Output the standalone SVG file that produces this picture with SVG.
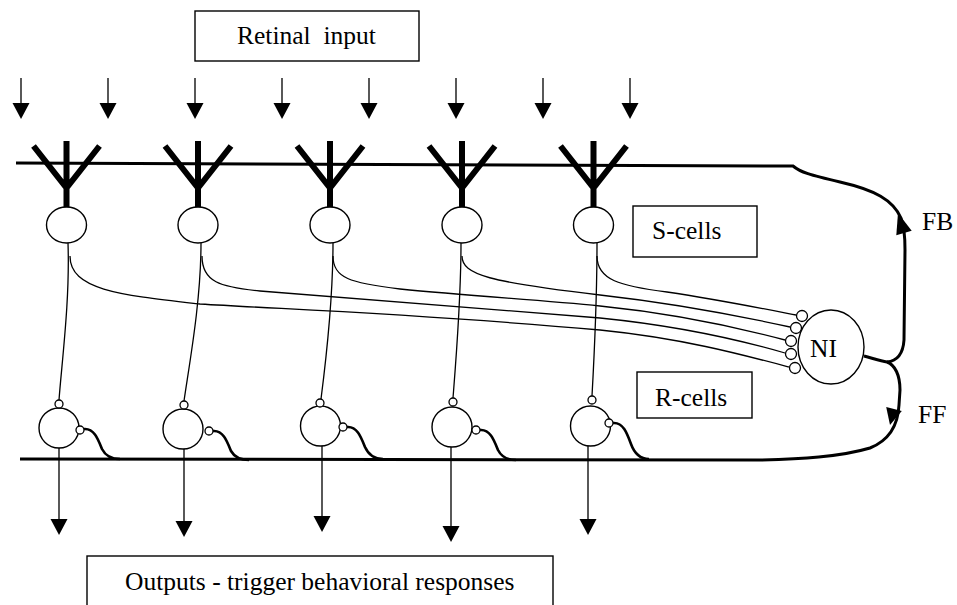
<svg xmlns="http://www.w3.org/2000/svg" xmlns:xlink="http://www.w3.org/1999/xlink" width="957" height="605" viewBox="0 0 957 605">
<style>
.thin{fill:none;stroke:#000;stroke-width:1.3}
.thick{fill:none;stroke:#000;stroke-width:3}
.tail{fill:none;stroke:#000;stroke-width:2.6}
.den{fill:none;stroke:#000;stroke-width:6;stroke-linejoin:miter}
.cell{fill:#fff;stroke:#000;stroke-width:1.4}
.syn{fill:#fff;stroke:#000;stroke-width:1.3}
.box{fill:#fff;stroke:#000;stroke-width:1.4}
.lbl{font-family:"Liberation Serif","Times New Roman",serif;font-size:25.5px;fill:#000}
</style>
<defs>
<path id="ah" d="M-8.5,-16 L8.5,-16 L0,0 Z" fill="#000"/>
</defs>
<rect width="957" height="605" fill="#fff"/>

<g id="retinal-input">
<rect class="box" x="195" y="11" width="224" height="50"/>
<text class="lbl" x="237" y="44" xml:space="preserve" style="white-space:pre">Retinal  input</text>
</g>

<g id="connectors">
<g class="thin">
<path d="M21,78V104M108,78V104M195,78V104M282,78V104M369,78V104M456,78V104M543,78V104M630,78V104"/>
</g>
<use xlink:href="#ah" x="21" y="119"/><use xlink:href="#ah" x="108" y="119"/><use xlink:href="#ah" x="195" y="119"/><use xlink:href="#ah" x="282" y="119"/>
<use xlink:href="#ah" x="369" y="119"/><use xlink:href="#ah" x="456" y="119"/><use xlink:href="#ah" x="543" y="119"/><use xlink:href="#ah" x="630" y="119"/>

<path class="thick" d="M16,163 L793,166 C800,172 810,175 840,182 C875,190 893,200 901,218 C905,228 905,240 905,250 L904,340 C903,355 897,361 887,362"/>
<path class="thick" d="M864,356 C872,358 880,361 887,362 C895,365 900,375 900,390 L899,405 C898,425 890,440 870,448 C840,457 800,459 760,460 L20,459"/>
<path d="M898,213 L911.7,230.7 L896.3,235.3 Z" fill="#000"/>
<path d="M890,425 L886.2,407.1 L901.8,410.9 Z" fill="#000"/>

<path class="thin" d="M68,243 C70,300 62,360 59,400"/>
<path class="thin" d="M201,243 C201,300 190,360 184,401"/>
<path class="thin" d="M333,243 C333,300 326,360 321,399"/>
<path class="thin" d="M461,243 C461,300 456,360 453,398"/>
<path class="thin" d="M597,243 C597,300 594,360 592,396"/>

<path class="thin" d="M70,256 C70,290 120,295 200,304 C300,310 420,314 600,330 C680,338 740,354 789,367"/>
<path class="thin" d="M202,256 C202,282 220,287 260,291 C330,297 450,306 600,318 C680,326 740,340 785,353"/>
<path class="thin" d="M333,256 C333,278 350,283 400,289 C470,296 540,300 600,306 C680,314 740,328 785,340"/>
<path class="thin" d="M462,256 C462,275 490,282 600,295 C680,304 740,316 790,327"/>
<path class="thin" d="M597,256 C597,280 620,286 667,292 C720,300 760,308 796,315"/>

<path class="tail" d="M84,429 C94,428 98,439 102,449 C106,457 112,459 120,459"/>
<path class="tail" d="M213,431 C223,430 227,441 231,451 C235,458 241,460 249,460"/>
<path class="tail" d="M347,427 C357,426 361,437 365,447 C369,456 375,459 383,459"/>
<path class="tail" d="M480,430 C490,429 494,440 498,450 C502,458 508,460 516,460"/>
<path class="tail" d="M613,423 C623,422 627,433 631,444 C635,455 641,459 649,459"/>

<path class="thin" d="M59,448V520M184,449V522M322,446V517M451,447V527M588,446V520"/>
<use xlink:href="#ah" x="59" y="535"/><use xlink:href="#ah" x="184" y="537"/><use xlink:href="#ah" x="322" y="532"/><use xlink:href="#ah" x="451" y="542"/><use xlink:href="#ah" x="588" y="535"/>
</g>

<g id="dendrites">
<path class="den" d="M66.5,141V207M33.5,146L66.5,188L99.5,146"/>
<path class="den" d="M198,141V207M165,146L198,188L231,146"/>
<path class="den" d="M330,141V207M297,146L330,188L363,146"/>
<path class="den" d="M462,141V207M429,146L462,188L495,146"/>
<path class="den" d="M593.5,141V207M560.5,146L593.5,188L626.5,146"/>
</g>

<g id="s-cell-1"><ellipse class="cell" cx="66.5" cy="225" rx="20" ry="18"/></g>
<g id="s-cell-2"><ellipse class="cell" cx="198" cy="225" rx="20" ry="18"/></g>
<g id="s-cell-3"><ellipse class="cell" cx="330" cy="225" rx="20" ry="18"/></g>
<g id="s-cell-4"><ellipse class="cell" cx="462" cy="225" rx="20" ry="18"/></g>
<g id="s-cell-5"><ellipse class="cell" cx="593.5" cy="225" rx="20" ry="18"/></g>

<g id="r-cell-1"><circle class="cell" cx="59" cy="428" r="20"/><circle class="syn" cx="59" cy="404" r="4"/><circle class="syn" cx="80" cy="430" r="4"/></g>
<g id="r-cell-2"><circle class="cell" cx="183" cy="429" r="20"/><circle class="syn" cx="184" cy="405" r="4"/><circle class="syn" cx="209" cy="431" r="4"/></g>
<g id="r-cell-3"><circle class="cell" cx="320.5" cy="426" r="20"/><circle class="syn" cx="320" cy="403" r="4"/><circle class="syn" cx="343" cy="427" r="4"/></g>
<g id="r-cell-4"><circle class="cell" cx="452" cy="427" r="20"/><circle class="syn" cx="453" cy="402" r="4"/><circle class="syn" cx="476" cy="430" r="4"/></g>
<g id="r-cell-5"><circle class="cell" cx="590.5" cy="426" r="20"/><circle class="syn" cx="592" cy="400" r="4"/><circle class="syn" cx="609" cy="423" r="4"/></g>

<g id="ni">
<ellipse class="cell" cx="831" cy="347" rx="33" ry="37"/>
<circle class="syn" cx="802" cy="316" r="5.5"/>
<circle class="syn" cx="796" cy="328" r="5.5"/>
<circle class="syn" cx="791" cy="341" r="5.5"/>
<circle class="syn" cx="791" cy="354" r="5.5"/>
<circle class="syn" cx="795" cy="368" r="5.5"/>
<text class="lbl" x="810" y="357">NI</text>
</g>

<g id="s-cells-label">
<rect class="box" x="633" y="206" width="124" height="51"/>
<text class="lbl" x="652" y="239">S-cells</text>
</g>
<g id="r-cells-label">
<rect class="box" x="637" y="372" width="115" height="46"/>
<text class="lbl" x="655" y="406">R-cells</text>
</g>
<g id="fb-label"><text class="lbl" x="922" y="230">FB</text></g>
<g id="ff-label"><text class="lbl" x="918" y="423">FF</text></g>

<g id="outputs">
<rect class="box" x="87" y="556" width="466" height="70"/>
<text class="lbl" x="125" y="590">Outputs - trigger behavioral responses</text>
</g>
</svg>
